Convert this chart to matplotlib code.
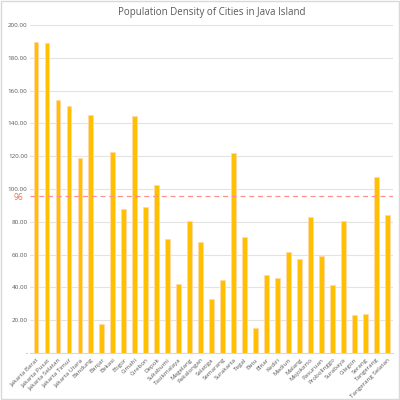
import matplotlib.pyplot as plt
from matplotlib.patches import Rectangle

cities = ['Jakarta Barat', 'Jakarta Pusat', 'Jakarta Selatan', 'Jakarta Timur', 'Jakarta Utara',
          'Bandung', 'Banjar', 'Bekasi', 'Bogor', 'Cimahi', 'Cirebon', 'Depok', 'Sukabumi',
          'Tasikmalaya', 'Magelang', 'Pekalongan', 'Salatiga', 'Semarang', 'Surakarta', 'Tegal',
          'Batu', 'Blitar', 'Kediri', 'Madiun', 'Malang', 'Mojokerto', 'Pasuruan', 'Probolinggo',
          'Surabaya', 'Cilegon', 'Serang', 'Tangerang', 'Tangerang Selatan']
density = [189.8, 189.2, 154.3, 150.8, 118.9, 145.3, 17.7, 122.7, 87.8, 144.5, 89.0, 102.4, 69.5,
           41.8, 80.5, 67.5, 32.7, 44.3, 122.1, 70.7, 15.0, 47.4, 45.5, 61.4, 57.5, 82.9, 59.3,
           41.3, 80.7, 23.4, 24.0, 107.1, 84.3]
average = 96

plt.rcParams['font.family'] = ['Open Sans', 'DejaVu Sans']

fig = plt.figure(figsize=(4, 4), dpi=100)
ax = fig.add_axes([0.076, 0.1175, 0.906, 0.82])

x = range(len(cities))
ax.bar(x, density, width=0.42, color='#FFC000', edgecolor='#FFD9A8', linewidth=0.6, zorder=3)
ax.axhline(average, color='#FF9090', linestyle=(0, (4, 3)), linewidth=0.9, zorder=4)

ax.set_xlim(-0.5, len(cities) - 0.5)
ax.set_ylim(0, 200)
ax.set_yticks(range(0, 201, 20))
ax.set_yticklabels(['-'] + [f'{v:.2f}' for v in range(20, 201, 20)])
ax.set_xticks(list(x))
ax.set_xticklabels(cities, rotation=45, ha='right', rotation_mode='anchor')
ax.tick_params(axis='both', length=0, labelsize=4.5, colors='#595959', pad=2)
ax.tick_params(axis='x', pad=3)
ax.grid(axis='y', color='#E3E3E3', linewidth=0.8, zorder=0)
for s in ax.spines.values():
    s.set_visible(False)
ax.spines['bottom'].set_visible(True)
ax.spines['bottom'].set_color('#D9D9D9')

ax.annotate(str(average), xy=(0, average), xycoords=ax.get_yaxis_transform(),
            xytext=(-5, -1.5), textcoords='offset points',
            ha='right', va='center', fontsize=6.2, color='#F4704F')

ax.set_title('Population Density of Cities in Java Island', fontsize=7, color='#595959', pad=7)

fig.patches.append(Rectangle((0.003, 0.003), 0.994, 0.994, transform=fig.transFigure,
                             fill=False, edgecolor='#D9D9D9', linewidth=1))

fig.savefig('out.png', dpi=100)
